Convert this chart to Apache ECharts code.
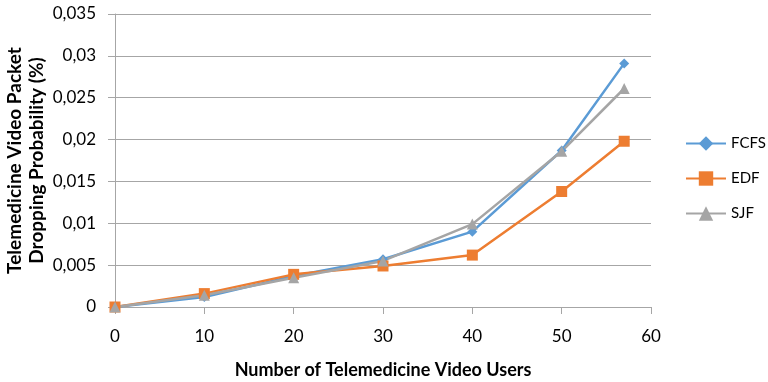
<!DOCTYPE html>
<html>
<head>
<meta charset="utf-8">
<script src="https://cdn.jsdelivr.net/npm/echarts@6/dist/echarts.min.js"></script>
<style>
  html, body { margin: 0; padding: 0; background: #fff; }
  #chart { width: 768px; height: 382px; }
</style>
</head>
<body>
<div id="chart"></div>
<script>
// Number of telemedicine video users
const users = [0, 10, 20, 30, 40, 50, 57];
// Packet dropping probability per scheduling policy
const fcfs = [0, 0.0012, 0.0037, 0.0057, 0.0090, 0.0187, 0.0291];
const edf  = [0, 0.0016, 0.0039, 0.0049, 0.0062, 0.0138, 0.0198];
const sjf  = [0, 0.0014, 0.0035, 0.0055, 0.0099, 0.0186, 0.0261];

const FONT = 'Lato, "Open Sans", sans-serif';

function pairs(ys) { return users.map((x, i) => [x, ys[i]]); }
function comma(v) {
  let s = (+v.toFixed(4)).toString();
  return s.replace('.', ',');
}

const chart = echarts.init(document.getElementById('chart'));
chart.setOption({
  animation: false,
  backgroundColor: '#fff',
  grid: { left: 115, right: 117, top: 14, bottom: 75, containLabel: false, outerBoundsMode: 'none' },
  legend: {
    orient: 'vertical',
    left: 680,
    top: 131,
    itemGap: 20,
    itemWidth: 40,
    itemHeight: 18,
    textStyle: { fontFamily: FONT, fontSize: 15, color: '#000' },
    data: ['FCFS', 'EDF', 'SJF']
  },
  xAxis: {
    type: 'value',
    min: 0, max: 60, interval: 10,
    name: 'Number of Telemedicine Video Users',
    nameLocation: 'middle',
    nameGap: 54,
    nameMoveOverlap: false,
    nameTextStyle: { fontFamily: FONT, fontSize: 18, fontWeight: 'bold', color: '#000' },
    axisLine: { lineStyle: { color: '#a6a6a6' } },
    axisTick: { show: true, length: 7, lineStyle: { color: '#a6a6a6' } },
    axisLabel: { fontFamily: FONT, fontSize: 17, color: '#000', margin: 21 },
    splitLine: { show: false }
  },
  yAxis: {
    type: 'value',
    min: 0, max: 0.035, interval: 0.005,
    name: 'Telemedicine Video Packet\nDropping Probability (%)',
    nameLocation: 'middle',
    nameGap: 67,
    nameMoveOverlap: false,
    nameTextStyle: { fontFamily: FONT, fontSize: 19, fontWeight: 'bold', color: '#000', lineHeight: 22 },
    axisLine: { show: true, lineStyle: { color: '#a6a6a6' } },
    axisTick: { show: true, length: 7, lineStyle: { color: '#a6a6a6' } },
    axisLabel: { fontFamily: FONT, fontSize: 17, color: '#000', margin: 19, formatter: comma },
    splitLine: { lineStyle: { color: '#a6a6a6' } }
  },
  series: [
    {
      name: 'FCFS', type: 'line', data: pairs(fcfs),
      symbol: 'diamond', symbolSize: 10,
      lineStyle: { width: 2.5, color: '#5b9bd5' },
      itemStyle: { color: '#5b9bd5' }
    },
    {
      name: 'EDF', type: 'line', data: pairs(edf),
      symbol: 'rect', symbolSize: 11,
      lineStyle: { width: 2.5, color: '#ed7d31' },
      itemStyle: { color: '#ed7d31' }
    },
    {
      name: 'SJF', type: 'line', data: pairs(sjf),
      symbol: 'triangle', symbolSize: 11,
      lineStyle: { width: 2.5, color: '#a5a5a5' },
      itemStyle: { color: '#a5a5a5' }
    }
  ]
});
</script>
</body>
</html>
